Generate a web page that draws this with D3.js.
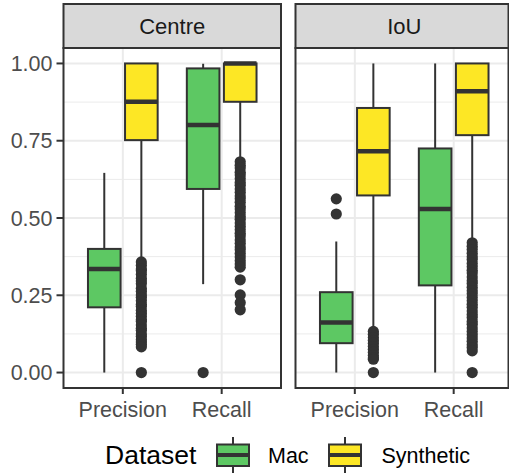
<!DOCTYPE html>
<html>
<head>
<meta charset="utf-8">
<script src="https://cdn.jsdelivr.net/npm/d3@7"></script>
<style>
  body { margin: 0; background: #fff; }
  svg { display: block; }
</style>
</head>
<body>
<svg id="chart"></svg>
<script>
// data
const facets = ["Centre", "IoU"];
const measures = ["Precision", "Recall"];
const datasets = ["Mac", "Synthetic"];
const yTicks = [0, 0.25, 0.5, 0.75, 1];
const yMinor = [0.125, 0.375, 0.625, 0.875];

// box summaries: [ymin, lower, middle, upper, ymax]
const centrePrecisionMac = [0.0, 0.211, 0.335, 0.400, 0.646];
const centrePrecisionSyn = [0.37, 0.752, 0.876, 1.0, 1.0];
const centreRecallMac = [0.286, 0.594, 0.801, 0.984, 0.999];
const centreRecallSyn = [0.69, 0.876, 1.0, 1.0, 1.0];
const iouPrecisionMac = [0.0, 0.095, 0.162, 0.260, 0.424];
const iouPrecisionSyn = [0.149, 0.573, 0.716, 0.856, 1.0];
const iouRecallMac = [0.0, 0.282, 0.529, 0.725, 1.0];
const iouRecallSyn = [0.42, 0.768, 0.910, 1.0, 1.0];

// outliers
const centrePrecisionMacOut = [];
const centrePrecisionSynOut = [0.358, 0.347, 0.335, 0.329, 0.318, 0.305, 0.296, 0.287, 0.272,
  0.262, 0.251, 0.243, 0.232, 0.221, 0.214, 0.201, 0.192, 0.182, 0.171, 0.166, 0.154, 0.143,
  0.137, 0.125, 0.117, 0.106, 0.099, 0.091, 0.083, 0.0];
const centreRecallMacOut = [0.0];
const centreRecallSynOut = [0.682, 0.671, 0.662, 0.648, 0.639, 0.627, 0.615, 0.606, 0.594,
  0.583, 0.571, 0.562, 0.551, 0.538, 0.529, 0.517, 0.505, 0.496, 0.484, 0.473, 0.462, 0.451,
  0.442, 0.429, 0.418, 0.406, 0.397, 0.385, 0.374, 0.362, 0.351, 0.341, 0.30, 0.251, 0.226, 0.203];
const iouPrecisionMacOut = [0.562, 0.513];
const iouPrecisionSynOut = [0.133, 0.124, 0.113, 0.104, 0.095, 0.084, 0.075, 0.066, 0.055,
  0.047, 0.043, 0.0];
const iouRecallMacOut = [];
const iouRecallSynOut = [0.42, 0.409, 0.398, 0.386, 0.375, 0.366, 0.353, 0.342, 0.331, 0.322,
  0.309, 0.297, 0.288, 0.276, 0.265, 0.255, 0.243, 0.232, 0.221, 0.211, 0.199, 0.188, 0.178,
  0.165, 0.156, 0.144, 0.133, 0.122, 0.112, 0.101, 0.09, 0.081, 0.07, 0.0];

const boxes = [
  { facet: "Centre", measure: "Precision", dataset: "Mac", stats: centrePrecisionMac, out: centrePrecisionMacOut },
  { facet: "Centre", measure: "Precision", dataset: "Synthetic", stats: centrePrecisionSyn, out: centrePrecisionSynOut },
  { facet: "Centre", measure: "Recall", dataset: "Mac", stats: centreRecallMac, out: centreRecallMacOut },
  { facet: "Centre", measure: "Recall", dataset: "Synthetic", stats: centreRecallSyn, out: centreRecallSynOut },
  { facet: "IoU", measure: "Precision", dataset: "Mac", stats: iouPrecisionMac, out: iouPrecisionMacOut },
  { facet: "IoU", measure: "Precision", dataset: "Synthetic", stats: iouPrecisionSyn, out: iouPrecisionSynOut },
  { facet: "IoU", measure: "Recall", dataset: "Mac", stats: iouRecallMac, out: iouRecallMacOut },
  { facet: "IoU", measure: "Recall", dataset: "Synthetic", stats: iouRecallSyn, out: iouRecallSynOut }
];

const width = 509, height = 474;
const ink = "#333333";
const fill = d3.scaleOrdinal().domain(datasets).range(["#5DC863", "#FDE725"]);
const font = "'Liberation Sans', Arial, Helvetica, sans-serif";

const svg = d3.select("#chart").attr("width", width).attr("height", height);

// layout
const panelTop = 48, panelBottom = 388, stripTop = 4;
const panelW = 217.5;
const panelLeft = [63.5, 295.5];
const panelRightLimit = 508.5;

const y = d3.scaleLinear().domain([-0.05, 1.05]).range([panelBottom, panelTop]);
const dodge = d3.scaleOrdinal().domain(datasets).range([-0.1875, 0.1875]);
const boxW = 0.33;

facets.forEach(function(f, fi) {
  const x0 = panelLeft[fi];
  const x1 = Math.min(x0 + panelW, panelRightLimit);
  const x = d3.scaleLinear().domain([0.4, 2.6]).range([x0, x0 + panelW]);
  const pos = function(m) { return measures.indexOf(m) + 1; };

  const g = svg.append("g");

  // background + grid
  g.append("rect").attr("x", x0).attr("y", panelTop).attr("width", x1 - x0)
      .attr("height", panelBottom - panelTop).attr("fill", "#fff");
  g.selectAll(".minor").data(yMinor).enter().append("line")
      .attr("x1", x0).attr("x2", x1)
      .attr("y1", d => y(d)).attr("y2", d => y(d))
      .attr("stroke", "#EBEBEB").attr("stroke-width", 1);
  g.selectAll(".major").data(yTicks).enter().append("line")
      .attr("x1", x0).attr("x2", x1)
      .attr("y1", d => y(d)).attr("y2", d => y(d))
      .attr("stroke", "#EBEBEB").attr("stroke-width", 2);
  g.selectAll(".vmajor").data(measures).enter().append("line")
      .attr("x1", d => x(pos(d))).attr("x2", d => x(pos(d)))
      .attr("y1", panelTop).attr("y2", panelBottom)
      .attr("stroke", "#EBEBEB").attr("stroke-width", 2);

  // boxes
  const data = boxes.filter(b => b.facet === f);
  data.forEach(function(b) {
    const cx = x(pos(b.measure) + dodge(b.dataset));
    const hw = (x(boxW) - x(0)) / 2;
    const s = b.stats;
    const bg = g.append("g");
    bg.append("line").attr("x1", cx).attr("x2", cx).attr("y1", y(s[3])).attr("y2", y(s[4]))
        .attr("stroke", ink).attr("stroke-width", 2);
    bg.append("line").attr("x1", cx).attr("x2", cx).attr("y1", y(s[0])).attr("y2", y(s[1]))
        .attr("stroke", ink).attr("stroke-width", 2);
    bg.append("rect").attr("x", cx - hw).attr("width", 2 * hw)
        .attr("y", y(s[3])).attr("height", y(s[1]) - y(s[3]))
        .attr("fill", fill(b.dataset)).attr("stroke", ink).attr("stroke-width", 2);
    bg.append("line").attr("x1", cx - hw).attr("x2", cx + hw)
        .attr("y1", y(s[2])).attr("y2", y(s[2]))
        .attr("stroke", ink).attr("stroke-width", 4.5);
    bg.selectAll("circle").data(b.out).enter().append("circle")
        .attr("cx", cx).attr("cy", d => y(d)).attr("r", 5.6).attr("fill", ink);
  });

  // panel border
  g.append("rect").attr("x", x0).attr("y", panelTop).attr("width", x1 - x0)
      .attr("height", panelBottom - panelTop).attr("fill", "none")
      .attr("stroke", ink).attr("stroke-width", 2);

  // strip
  g.append("rect").attr("x", x0).attr("y", stripTop).attr("width", x1 - x0)
      .attr("height", panelTop - stripTop).attr("fill", "#D9D9D9")
      .attr("stroke", ink).attr("stroke-width", 2);
  g.append("text").text(f)
      .attr("x", (x(0.4) + x(2.6)) / 2).attr("y", (stripTop + panelTop) / 2)
      .attr("dy", "0.36em").attr("text-anchor", "middle")
      .style("font-family", font).style("font-size", "22px").attr("fill", "#1A1A1A");

  // x axis
  const xa = g.append("g");
  measures.forEach(function(m) {
    xa.append("line").attr("x1", x(pos(m))).attr("x2", x(pos(m)))
        .attr("y1", panelBottom).attr("y2", panelBottom + 6)
        .attr("stroke", ink).attr("stroke-width", 2);
    xa.append("text").text(m).attr("x", x(pos(m))).attr("y", 417)
        .attr("text-anchor", "middle")
        .style("font-family", font).style("font-size", "21.5px").attr("fill", "#4D4D4D");
  });
});

// y axis
const ya = svg.append("g");
yTicks.forEach(function(t) {
  ya.append("line").attr("x1", panelLeft[0] - 7).attr("x2", panelLeft[0])
      .attr("y1", y(t)).attr("y2", y(t)).attr("stroke", ink).attr("stroke-width", 2);
  ya.append("text").text(d3.format(".2f")(t))
      .attr("x", 52.5).attr("y", y(t)).attr("dy", "0.36em").attr("text-anchor", "end")
      .style("font-family", font).style("font-size", "21.5px").attr("fill", "#4D4D4D");
});

// legend
const lg = svg.append("g");
lg.append("text").text("Dataset").attr("x", 105).attr("y", 464)
    .style("font-family", font).style("font-size", "26.5px").attr("fill", "#000");
const keyX = [217, 329], labelX = [268, 381.5];
const keyTop = 437, keyH = 36, keyW = 32;
datasets.forEach(function(d, i) {
  const kx = keyX[i], cx = kx + keyW / 2;
  lg.append("line").attr("x1", cx).attr("x2", cx).attr("y1", keyTop).attr("y2", keyTop + keyH)
      .attr("stroke", ink).attr("stroke-width", 2);
  lg.append("rect").attr("x", kx).attr("y", keyTop + 7.5).attr("width", keyW).attr("height", 21.5)
      .attr("fill", fill(d)).attr("stroke", ink).attr("stroke-width", 2);
  lg.append("line").attr("x1", kx).attr("x2", kx + keyW)
      .attr("y1", keyTop + keyH / 2).attr("y2", keyTop + keyH / 2)
      .attr("stroke", ink).attr("stroke-width", 4);
  lg.append("text").text(d).attr("x", labelX[i]).attr("y", 463)
      .style("font-family", font).style("font-size", "21.5px").attr("fill", "#000");
});
</script>
</body>
</html>
